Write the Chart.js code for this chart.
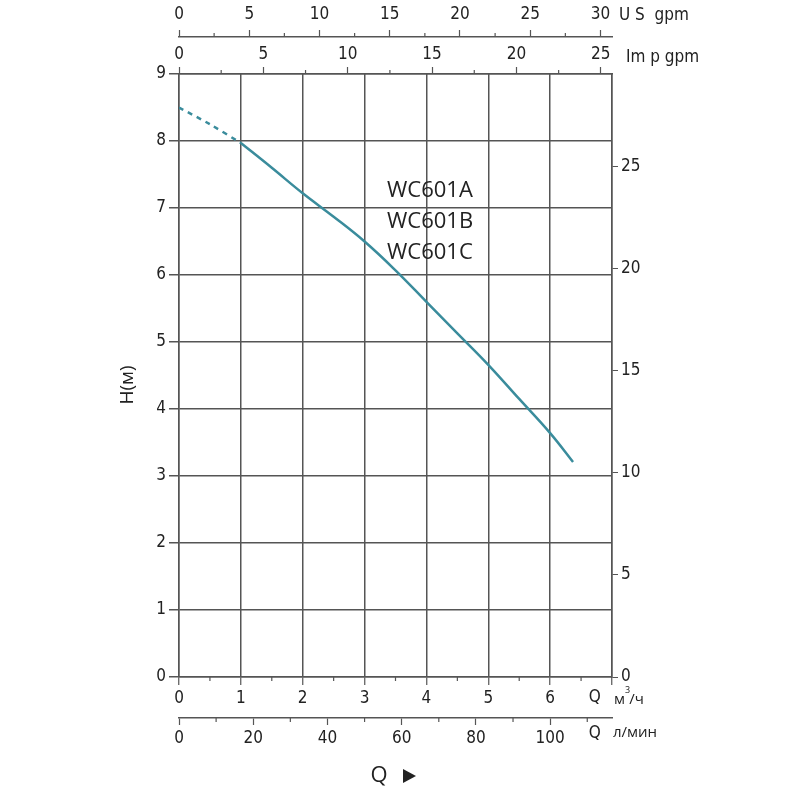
<!DOCTYPE html>
<html>
<head>
<meta charset="utf-8">
<script src="https://cdn.jsdelivr.net/npm/chart.js@4.4.0/dist/chart.umd.min.js"></script>
<style>
html,body{margin:0;padding:0;background:#fff;}
#wrap{width:800px;height:800px;position:relative;}
</style>
</head>
<body>
<div id="wrap"><canvas id="c"></canvas></div>
<script>
// ---- data ----
const flowDashed = [0, 0.5, 1];             // m³/h
const headDashed = [8.5, 8.25, 7.97];       // m
const flowSolid  = [1, 1.5, 2, 2.5, 3, 3.5, 4, 4.5, 5, 5.5, 6, 6.37];
const headSolid  = [7.97, 7.6, 7.22, 6.87, 6.5, 6.07, 5.6, 5.13, 4.66, 4.15, 3.64, 3.21];
const modelNames = ['WC601A', 'WC601B', 'WC601C'];

// axis ranges / unit conversions
const qMax = 7;          // m³/h
const hMax = 9;          // m
const FT_PER_M = 3.28084;
const USGPM_PER_M3H = 4.40287;
const IMPGPM_PER_M3H = 3.66615;
const LMIN_PER_M3H = 1000 / 60;

const FONT = "'Liberation Sans Narrow', 'DejaVu Sans Condensed', 'Open Sans', sans-serif";
const TXT = '#222';
const GRID = '#555';
const CURVE = '#3a8c9c';
const CLEAR = 'rgba(0,0,0,0)';

const pts = (xs, ys) => xs.map((x, i) => ({x, y: ys[i]}));
const fixH = h => function (s) { s.height = h; };
const fixW = w => function (s) { s.width = w; };
const isMult = (v, m) => Math.abs(v / m - Math.round(v / m)) < 1e-6;

// major step per scale; ticks between majors are drawn shorter by the plugin
const majorStep = {x: 1, xl: 20, xi: 5, xu: 5};
const tickCol = id => c => (c.tick && isMult(c.tick.value, majorStep[id])) ? GRID : CLEAR;

const minorTickPlugin = {
  id: 'minorTicks',
  afterDraw(chart) {
    const ctx = chart.ctx;
    ctx.save();
    ctx.strokeStyle = GRID;
    ctx.lineWidth = 1.2;
    Object.keys(majorStep).forEach(id => {
      const s = chart.scales[id];
      const pos = s.options.position;
      const edge = pos === 'bottom' ? s.top : s.bottom;
      const dir = pos === 'bottom' ? 1 : -1;
      s.ticks.forEach(t => {
        if (isMult(t.value, majorStep[id])) return;
        const px = s.getPixelForValue(t.value);
        ctx.beginPath();
        ctx.moveTo(px, edge);
        ctx.lineTo(px, edge + dir * 4);
        ctx.stroke();
      });
    });
    ctx.restore();
  }
};

const textPlugin = {
  id: 'texts',
  afterDraw(chart) {
    const ctx = chart.ctx;
    const ca = chart.chartArea;
    const xs = chart.scales.x;
    ctx.save();
    ctx.fillStyle = TXT;
    ctx.textBaseline = 'middle';
    // model names
    ctx.font = "22px 'Open Sans', sans-serif";
    ctx.textAlign = 'left';
    modelNames.forEach((n, i) => ctx.fillText(n, 387, 191 + i * 31));
    // unit labels
    ctx.font = '17px ' + FONT;
    ctx.fillText('U S  gpm', ca.right + 7, 16);
    ctx.fillText('Im p gpm', ca.right + 14, 58);
    const qx = xs.getPixelForValue(6.72);
    ctx.textAlign = 'center';
    ctx.fillText('Q', qx, 698);
    ctx.fillText('Q', qx, 734);
    ctx.textAlign = 'left';
    ctx.font = "15px 'Open Sans', sans-serif";
    let ux = ca.right + 2;
    ctx.fillText('м', ux, 700);
    ux += ctx.measureText('м').width;
    ctx.font = "9px 'Open Sans', sans-serif";
    ctx.fillText('3', ux, 690);
    ux += ctx.measureText('3').width;
    ctx.font = "15px 'Open Sans', sans-serif";
    ctx.fillText('/ч', ux - 1, 700);
    ctx.fillText('л/мин', ca.right + 1, 733);
    // Q ► label
    ctx.font = "22px 'Open Sans', sans-serif";
    ctx.textAlign = 'center';
    ctx.fillText('Q', 379, 776);
    ctx.beginPath();
    ctx.moveTo(403, 769); ctx.lineTo(416, 776); ctx.lineTo(403, 783); ctx.closePath();
    ctx.fill();
    // H(м)
    ctx.translate(128, 385);
    ctx.rotate(-Math.PI / 2);
    ctx.font = "19px 'Open Sans', sans-serif";
    ctx.fillText('H(м)', 0, 0);
    ctx.restore();
  }
};

const tickFont = {family: FONT, size: 17};

new Chart(document.getElementById('c'), {
  type: 'line',
  data: {
    datasets: [
      {data: pts(flowDashed, headDashed), borderColor: CURVE, borderWidth: 2.5,
       borderDash: [5, 5], pointRadius: 0, tension: 0.3, xAxisID: 'x', yAxisID: 'y'},
      {data: pts(flowSolid, headSolid), borderColor: CURVE, borderWidth: 2.5,
       pointRadius: 0, tension: 0.4, xAxisID: 'x', yAxisID: 'y'}
    ]
  },
  options: {
    responsive: true,
    maintainAspectRatio: false,
    animation: false,
    layout: {padding: 0},
    plugins: {legend: {display: false}, tooltip: {enabled: false}},
    scales: {
      x: {
        type: 'linear', position: 'bottom', min: 0, max: qMax, bounds: 'data', weight: 0,
        afterFit: fixH(41),
        border: {color: GRID, width: 1.5},
        grid: {color: c => (c.tick && isMult(c.tick.value, 1)) ? GRID : CLEAR,
               lineWidth: 1.5, tickColor: tickCol('x'), tickLength: 8, tickWidth: 1.2},
        ticks: {stepSize: 0.5, autoSkip: false, maxRotation: 0, padding: 3, color: TXT, font: tickFont,
                callback: v => (isMult(v, 1) && v < qMax) ? String(v) : ''}
      },
      xl: {
        type: 'linear', position: 'bottom', min: 0, max: qMax * LMIN_PER_M3H, bounds: 'data', weight: 1,
        afterFit: fixH(82),
        border: {color: GRID, width: 1.5},
        grid: {drawOnChartArea: false, tickColor: tickCol('xl'), tickLength: 7, tickWidth: 1.2},
        ticks: {stepSize: 10, includeBounds: false, autoSkip: false, maxRotation: 0, padding: 3,
                color: TXT, font: tickFont,
                callback: v => (isMult(v, 20) && v <= 100) ? String(v) : ''}
      },
      xi: {
        type: 'linear', position: 'top', min: 0, max: qMax * IMPGPM_PER_M3H, bounds: 'data', weight: 0,
        afterFit: fixH(37),
        border: {color: GRID, width: 1.5},
        grid: {drawOnChartArea: false, tickColor: tickCol('xi'), tickLength: 7, tickWidth: 1.2},
        ticks: {stepSize: 2.5, includeBounds: false, autoSkip: false, maxRotation: 0, padding: 2,
                color: TXT, font: tickFont,
                callback: v => isMult(v, 5) ? String(v) : ''}
      },
      xu: {
        type: 'linear', position: 'top', min: 0, max: qMax * USGPM_PER_M3H, bounds: 'data', weight: 1,
        afterFit: fixH(37),
        border: {color: GRID, width: 1.5},
        grid: {drawOnChartArea: false, tickColor: tickCol('xu'), tickLength: 7, tickWidth: 1.2},
        ticks: {stepSize: 2.5, includeBounds: false, autoSkip: false, maxRotation: 0, padding: 5,
                color: TXT, font: tickFont,
                callback: v => isMult(v, 5) ? String(v) : ''}
      },
      y: {
        type: 'linear', position: 'left', min: 0, max: hMax, bounds: 'data',
        afterFit: fixW(179),
        border: {color: GRID, width: 1.5},
        grid: {color: GRID, lineWidth: 1.5, tickColor: GRID, tickLength: 10},
        ticks: {stepSize: 1, padding: 3, color: TXT, font: tickFont}
      },
      yf: {
        type: 'linear', position: 'right', min: 0, max: hMax * FT_PER_M, bounds: 'data',
        afterFit: fixW(188),
        border: {color: GRID, width: 1.5},
        grid: {drawOnChartArea: false, tickColor: GRID, tickLength: 6},
        ticks: {stepSize: 5, includeBounds: false, padding: 3, color: TXT, font: tickFont}
      }
    }
  },
  plugins: [minorTickPlugin, textPlugin]
});
</script>
</body>
</html>
